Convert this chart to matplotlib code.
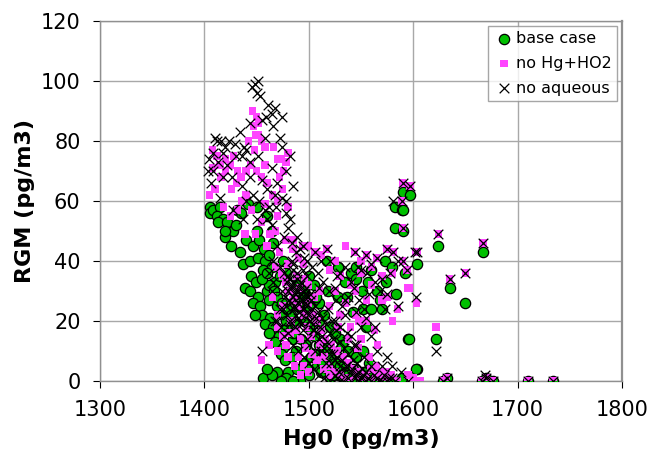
import matplotlib
matplotlib.use("Agg")
import matplotlib.pyplot as plt

# ---- data ----
# base case
base_x = [1405,1405,1408,1415,1412,1418,1413,1422,1427,1431,1442,1450,1430,1420,1425,1434,1437,1444,1451,1458,
          1466,1465,1456,1440,1447,1452,1445,1449,1439,1444,1451,1447,1453,1455,1463,1448,1458,1466,1462,1471,
          1468,1475,1473,1477,1480,1456,1470,1489,1492,1460,1462,1470,1475,1468,1472,1457,1462,1478,1481,1485,
          1488,1484,1495,1500,1478,1485,1465,1460,1473,
          1490,1495,1500,1505,1510,1515,1520,1525,1530,1535,1540,1545,1550,1555,1502,1508,1512,1520,1528,1535,
          1542,1548,1560,1565,1570,1580,
          1517,1528,1573,1604,1574,1584,1551,1557,1568,1552,1560,1518,1528,1542,1595,1517,1530,1604,1498,1500,
          1505,1510,1495,1490,1535,1540,1545,1560,1580,1583,1589,1583,1590,1597,1590,1590,1624,1667,1592,1635,
          1650,1596,1622,1603,1589,1629,1632,1666,1676,1710,1734,1670]
base_y = [58,56,57,58,55,54,53,53,50,57,59,58,52,48,45,43,39,40,41,40,
          46,38,37,47,45,47,35,33,31,30,28,26,25,22,21,22,19,18,16,15,
          13,11,9,7,3,1,3,4,0,30,27,25,22,33,35,44,42,20,17,14,
          10,8,6,2,1,0,2,4,0,
          25,20,18,15,12,10,8,6,5,3,2,1,0,0,8,5,3,1,2,0,
          4,2,1,0,1,0,
          40,38,40,39,33,29,30,33,27,24,24,30,28,23,14,11,14,4,4,35,
          32,26,30,33,33,36,38,37,38,58,57,51,63,62,57,50,45,43,36,31,
          26,14,14,4,1,0,1,0,0,0,0,1]
base_x_dense = [1462,1455,1460,1467,1470,1474,1479,1483,1487,1475,1485,1493,1497,1505,1513,1518,1523,1533,1538,1552,
                1558,1562,1510,1515,1520,1525,1532,1538,1545,1552,1558,1500,1507,1494,1537,1545,1565,1570,1555,1475,
                1478,1450,1460,1465,1435,1420]
base_y_dense = [32,34,36,30,28,26,24,22,19,17,16,14,12,9,6,4,2,1,2,3,
                0,2,20,22,18,16,12,10,8,10,6,25,28,28,28,34,30,24,18,40,
                36,50,55,50,56,50]

# no Hg+HO2
hox_x = [1446,1450,1447,1452,1448,1455,1458,1466,1470,1474,1476,1472,1408,1412,1420,1428,1425,1408,1416,1420,
         1431,1405,1410,1435,1440,1444,1450,1455,1460,1465,1470,1440,1418,1425,1432,1439,1449,1463,1455,1470,
         1472,1480,1495,1475,1460,1468,1478,1485,1490,1480,1485,1490,1495,1488,1500,1505,1498,1502,1510,1515,
         1520,1525,1530,1535,1540,1545,1550,1555,1560,1455,1470,1478,1482,1490,1495,1500,1470,1475,1465,
         1506,1517,1544,1555,1565,1575,1581,1602,1494,1520,1530,1540,1550,1560,1570,1595,1603,1547,1566,1580,
         1585,1575,1520,1530,1540,1550,1558,1565,1570,1575,1585,1595,1510,1525,1535,1545,1555,1563,
         1590,1597,1589,1590,1624,1667,1604,1590,1594,1635,1650,1596,1622,1632,1629,1666,1670,1676,1710,1734,
         1607,1600]
hox_y = [90,88,85,82,77,80,78,78,74,74,70,68,77,75,74,75,72,71,68,70,
         66,62,64,68,70,72,70,68,66,62,60,62,58,55,57,49,49,49,53,55,
         43,39,39,35,45,50,47,44,41,30,27,25,22,35,32,28,18,15,12,8,
         5,3,2,1,0,2,0,1,0,7,10,12,16,8,5,3,22,25,28,
         43,44,43,42,41,44,43,43,45,37,35,32,36,38,35,31,26,11,12,20,
         24,28,25,22,18,14,8,5,3,1,0,2,30,30,26,22,20,17,
         66,65,60,51,49,46,43,40,37,34,36,31,18,1,0,0,1,0,0,0,
         0,1]
hox_x_dense = [1474,1478,1482,1486,1491,1496,1500,1504,1508,1512,1516,1522,1527,1533,1538,1543,1549,1554,1559,1564,
               1569,1574,1579,1483,1488,1492,1497,1503,1508,1514,1520,1470,1475,1480,1486,1492,1462,1468,1485,1500,
               1512,1525,1535,1550,1560,1570,1580,1545,1555,1528,1538,1548,1480,1475,1458,1452,1449,1442,1432,1415,
               1426,1436,1445,1458,1480,1478]
hox_y_dense = [36,33,30,27,31,34,26,22,20,17,14,12,10,8,6,4,3,2,4,2,
               1,3,2,20,17,14,11,9,7,4,2,18,15,8,5,2,12,38,47,45,
               42,40,45,40,32,27,36,30,27,18,14,20,58,64,72,86,82,80,70,72,
               64,60,57,59,76,73]

# no aqueous
aq_x = [1448,1450,1446,1453,1451,1461,1468,1474,1465,1444,1455,1410,1416,1424,1429,1434,1458,1472,1404,1413,
        1422,1444,1451,1465,1406,1426,1444,1455,1415,1460,1468,1474,1427,1437,1450,1460,1469,1480,1489,1484,
        1492,1485,1494,1498,1455,1440,1436,1418,1408,1447,1470,1462,1478,
        1494,1506,1517,1544,1555,1565,1575,1581,1602,1520,1530,1540,1550,1560,1570,1510,1525,1535,1545,1555,
        1563,1585,1575,
        1590,1597,1589,1581,1590,1624,1667,1604,1590,1594,1635,1650,1603,1622,1669,1632,1629,1666,1676,1710,
        1734,1670,
        1480,1485,1490,1495,1488,1492,1500,1505,1498,1510,1515,1520,1525,1530,1535,1540,1545,1550,1555,1560,
        1565,1570,1575,1580,1490,1495,1485,1480,1478,1482,1476,1485,1490,1495,1500,1505,1510,1515,1520,1525,
        1530,1470,1475,1465]
aq_y = [99,96,98,95,100,92,91,88,89,86,87,81,80,80,79,83,81,81,74,73,
        72,73,75,71,66,68,68,67,61,64,62,61,57,54,54,54,58,51,48,46,
        44,39,37,35,10,77,75,76,70,62,66,58,56,
        45,43,44,43,42,41,44,43,43,40,36,33,37,39,34,31,31,27,23,21,
        18,25,29,
        66,65,60,60,51,49,46,43,40,37,34,36,28,10,2,1,0,0,0,0,
        0,1,
        30,28,26,24,22,20,20,17,14,14,11,9,7,5,4,3,2,1,0,0,
        1,0,0,1,30,28,33,35,25,20,15,12,10,8,6,4,2,1,0,2,
        0,20,24,30]
aq_x_dense = [1472,1476,1479,1483,1487,1481,1486,1491,1489,1493,1497,1501,1496,1503,1499,1507,1504,1511,1508,1513,
              1517,1512,1519,1523,1527,1521,1532,1536,1529,1541,1538,1547,1552,1557,1562,1567,1548,1544,1533,1527,
              1572,1577,1583,1474,1477,1472,1468,1473,1480,1487,1494,1500,1506,1516,1484,1488,1495,1503,1509,1514,
              1519,1526,1532,1538,1543,1548,1553,1558,1563,1568,1573,1578,1585,1556,1547,1535,1527,1512,1498,1466,
              1462,1466,1470,1476,1482,1478,1485,1478,1482,1474,1466,1459,1438,1430,1420,1412,1408,1403,1418,1436,
              1440,1452,1458,1465,1545,1553,1560,1565,1540,1530,1525,1535,1550,1560,1575,1580,1588,1595,1570]
aq_y_dense = [38,36,33,31,29,27,25,23,36,33,31,29,26,24,22,21,19,18,16,15,
              13,10,11,9,8,6,7,5,3,4,1,3,2,1,2,0,0,1,0,1,
              2,1,0,30,28,24,20,18,16,18,17,12,10,6,40,43,41,38,36,33,
              30,27,25,28,31,27,24,29,33,30,24,36,40,36,38,38,35,40,40,40,
              36,33,45,48,54,60,65,70,75,78,85,88,78,75,78,80,76,70,68,65,
              60,60,57,52,12,8,5,10,15,18,20,22,18,15,8,5,3,0,5]
aq_x_core = [1481,1484,1488,1491,1494,1497,1483,1486,1490,1493,1496,1499,1502,1485,1489,1492,1495,1498,1501,1504,
             1479,1482,1506,1509,1513,1516,1520,1523,1518,1522,1526,1530,1534,1538,1542,1546,1551,1555,1537,1543]
aq_y_core = [34,32,30,28,27,25,26,24,21,19,29,28,27,37,34,32,30,23,20,17,
             22,19,25,23,21,19,16,14,24,20,17,13,11,9,7,6,4,3,16,12]

series_labels = ["base case", "no Hg+HO2", "no aqueous"]
x_ticks = [1300, 1400, 1500, 1600, 1700, 1800]
y_ticks = [0, 20, 40, 60, 80, 100, 120]

# ---- figure ----
fig = plt.figure(figsize=(6.56, 4.66), dpi=100)
ax = fig.add_axes([100/656, 1-381/466, 522/656, 360/466])

ax.scatter(base_x + base_x_dense, base_y + base_y_dense, s=55, c="#00c000", edgecolors="black",
           linewidths=0.9, marker="o", label=series_labels[0], zorder=3)
ax.scatter(hox_x + hox_x_dense, hox_y + hox_y_dense, s=28, c="#ff44ff", edgecolors="none",
           marker="s", label=series_labels[1], zorder=4)
ax.scatter(aq_x + aq_x_dense + aq_x_core, aq_y + aq_y_dense + aq_y_core, s=48, c="black",
           linewidths=0.9, marker="x", label=series_labels[2], zorder=5)

ax.set_xlim(1300, 1800)
ax.set_ylim(0, 120)
ax.set_xticks(x_ticks)
ax.set_yticks(y_ticks)
ax.tick_params(labelsize=15, colors="black", length=5, width=0.8, pad=9)
for t in ax.xaxis.get_ticklines() + ax.yaxis.get_ticklines():
    t.set_color("#808080")
ax.grid(True, color="#a8a8a8", linewidth=1.0)
ax.set_axisbelow(True)
for side in ["left", "bottom", "top"]:
    ax.spines[side].set_color("#909090")
    ax.spines[side].set_linewidth(1.0)
ax.spines["right"].set_color("#909090")
ax.spines["right"].set_linewidth(1.6)

ax.set_xlabel("Hg0 (pg/m3)", fontsize=16, fontweight="bold", labelpad=6)
ax.set_ylabel("RGM (pg/m3)", fontsize=16, fontweight="bold", labelpad=4)

leg = ax.legend(loc="upper right", fontsize=11.5, frameon=True, fancybox=False,
                borderpad=0.35, handletextpad=0.1, labelspacing=0.6, handlelength=1.3,
                borderaxespad=0.3)
leg.get_frame().set_edgecolor("#909090")
leg.get_frame().set_linewidth(1.0)

fig.savefig("out.png", dpi=100)
